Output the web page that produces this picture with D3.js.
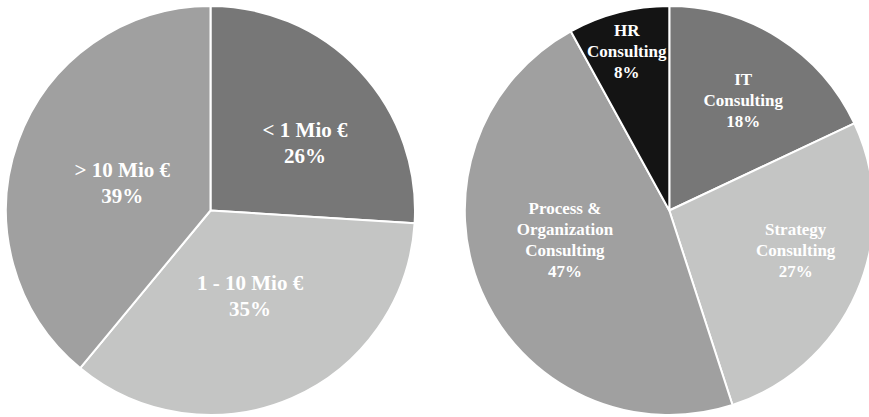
<!DOCTYPE html>
<html>
<head>
<meta charset="utf-8">
<script src="https://cdn.jsdelivr.net/npm/d3@7"></script>
<style>
  html, body { margin: 0; padding: 0; background: #ffffff; }
  svg { display: block; }
</style>
</head>
<body>
<svg id="chart" width="869" height="417"></svg>
<script>
// Revenue classes
const revenueLabels = [["< 1 Mio €"], ["1 - 10 Mio €"], ["> 10 Mio €"]];
const revenueShares = [26, 35, 39];

// Consulting fields
const fieldLabels = [["IT", "Consulting"], ["Strategy", "Consulting"], ["Process &", "Organization", "Consulting"], ["HR", "Consulting"]];
const fieldShares = [18, 27, 47, 8];

const svg = d3.select("#chart");

function drawPie(cfg) {
  const data = cfg.values.map((v, i) => ({ value: v, lines: cfg.labels[i], color: cfg.colors[i], nudge: cfg.nudges[i] }));
  const pie = d3.pie().value(d => d.value).sort(null);
  const arc = d3.arc().innerRadius(0).outerRadius(cfg.r);
  const labelArc = d3.arc().innerRadius(cfg.r * cfg.labelFrac).outerRadius(cfg.r * cfg.labelFrac);

  const g = svg.append("g").attr("transform", `translate(${cfg.cx},${cfg.cy})`);
  const arcs = pie(data);

  g.selectAll("path.slice")
    .data(arcs)
    .join("path")
    .attr("class", "slice")
    .attr("d", arc)
    .attr("fill", d => d.data.color)
    .attr("stroke", "#ffffff")
    .attr("stroke-width", 2)
    .attr("stroke-linejoin", "round");

  const labels = g.selectAll("text.lbl")
    .data(arcs)
    .join("text")
    .attr("class", "lbl")
    .attr("text-anchor", "middle")
    .attr("fill", "#ffffff")
    .style("font-family", "'Liberation Serif', 'Times New Roman', serif")
    .style("font-weight", "bold")
    .style("font-size", cfg.fontSize + "px")
    .each(function (d) {
      const [x, y] = labelArc.centroid(d);
      const cx = x + d.data.nudge[0];
      const cy = y + d.data.nudge[1];
      const lines = d.data.lines.concat([d.data.value + "%"]);
      const lh = cfg.lineHeight;
      const top = cy - (lines.length - 1) * lh / 2;
      const t = d3.select(this);
      lines.forEach((ln, k) => {
        t.append("tspan")
          .attr("x", cx)
          .attr("y", top + k * lh)
          .attr("dy", "0.35em")
          .text(ln);
      });
    });
}

drawPie({
  cx: 210.5, cy: 210.5, r: 204.5,
  values: revenueShares,
  labels: revenueLabels,
  colors: ["#777777", "#c4c5c4", "#a0a0a0"],
  nudges: [[20, 2], [-1, -9], [8, 7]],
  labelFrac: 0.5,
  fontSize: 21,
  lineHeight: 26
});

drawPie({
  cx: 669.3, cy: 210.5, r: 204.5,
  values: fieldShares,
  labels: fieldLabels,
  colors: ["#777777", "#c4c5c4", "#a0a0a0", "#141414"],
  nudges: [[6, -3], [10, -11], [12, -21], [-11, -37]],
  labelFrac: 0.62,
  fontSize: 17,
  lineHeight: 21
});
</script>
</body>
</html>
